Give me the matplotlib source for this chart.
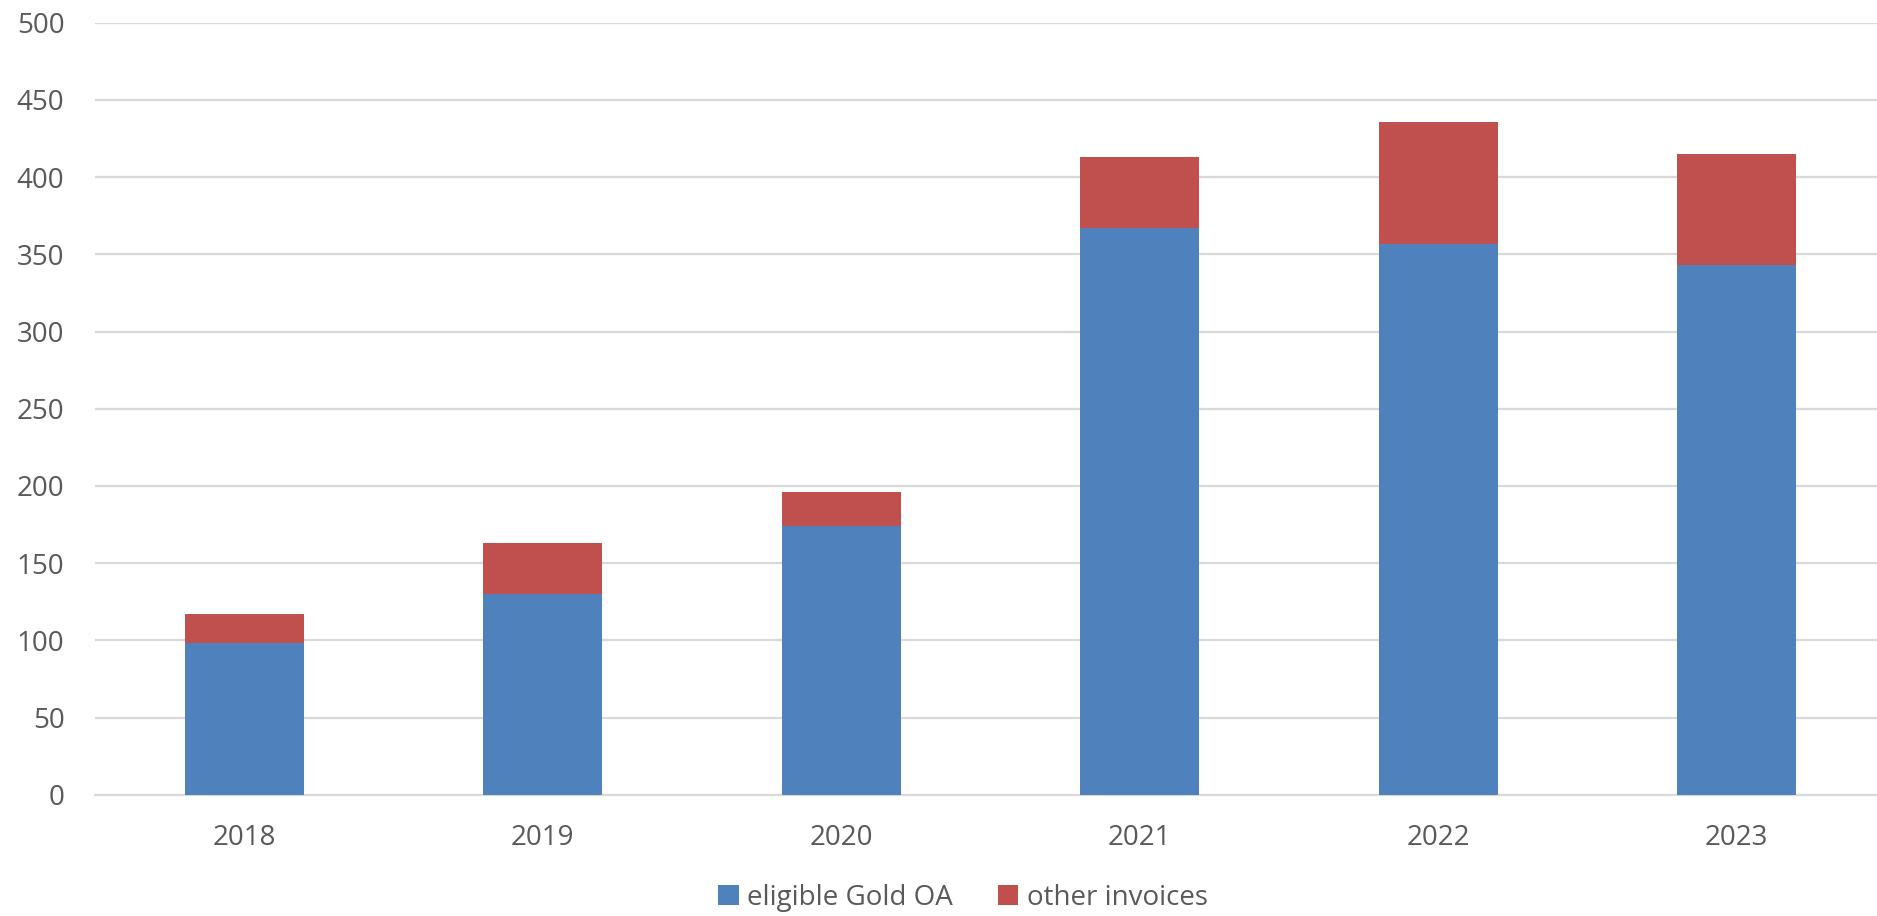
import matplotlib.pyplot as plt
import numpy as np

years = ["2018", "2019", "2020", "2021", "2022", "2023"]
gold_oa = [98, 130, 174, 367, 357, 343]
other = [19, 33, 22, 46, 79, 72]

plt.rcParams["font.family"] = ["Open Sans", "DejaVu Sans"]

fig = plt.figure(figsize=(18.77, 9.16), dpi=100)
ax = fig.add_axes([95 / 1877, 0.1323, 1791 / 1877, 0.8429])

x = np.arange(len(years))
ax.bar(x, gold_oa, width=0.4, color="#4F81BD", label="eligible Gold OA", zorder=3)
ax.bar(x, other, width=0.4, bottom=gold_oa, color="#C0504D", label="other invoices", zorder=3)

ax.set_xlim(-0.5, len(years) - 0.5)
ax.set_ylim(0, 500)
ax.set_yticks(np.arange(0, 501, 50))
ax.set_xticks(x)
ax.set_xticklabels(years)

ax.grid(axis="y", color="#D9D9D9", linewidth=1.6, zorder=0)
for s in ["top", "right", "left"]:
    ax.spines[s].set_visible(False)
ax.spines["bottom"].set_color("#D9D9D9")
ax.spines["bottom"].set_linewidth(1.6)
ax.tick_params(axis="both", length=0, labelsize=20, colors="#595959")
ax.tick_params(axis="y", pad=22)
ax.tick_params(axis="x", pad=21)

fig.legend(loc="center", bbox_to_anchor=(963 / 1877, 1 - 898 / 916), ncol=2, frameon=False,
           fontsize=20, labelcolor="#595959", handlelength=0.75, handleheight=0.75,
           handletextpad=0.3, columnspacing=1.6)

plt.savefig("out.png", dpi=100)
plt.close()
